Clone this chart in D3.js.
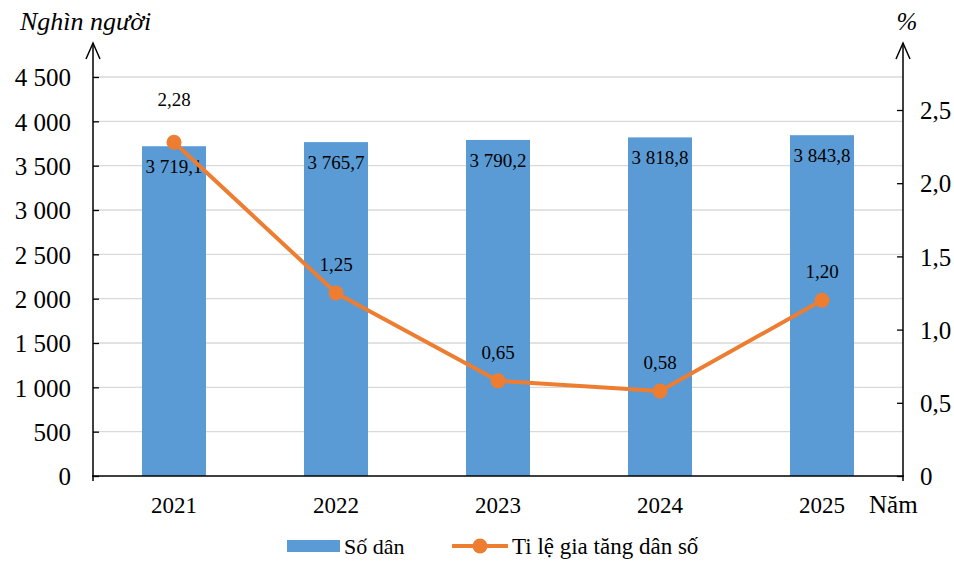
<!DOCTYPE html>
<html>
<head>
<meta charset="utf-8">
<script src="https://cdn.jsdelivr.net/npm/d3@7"></script>
<style>
  body { margin: 0; background: #fff; }
</style>
</head>
<body>
<div id="chart"></div>
<script>
// data
const years = ['2021', '2022', '2023', '2024', '2025'];
const population = [3719.1, 3765.7, 3790.2, 3818.8, 3843.8];
const growthRate = [2.28, 1.25, 0.65, 0.58, 1.20];
const leftTicks = [0, 500, 1000, 1500, 2000, 2500, 3000, 3500, 4000, 4500];
const rightTicks = [0, 0.5, 1.0, 1.5, 2.0, 2.5];

const width = 954, height = 563;
const plotLeft = 93, plotRight = 903, plotBottom = 476, plotTop = 43;
const serif = '"Liberation Serif", "Times New Roman", serif';

const fmtNum = (v, d) => {
    let s = v.toFixed(d).replace('.', ',');
    let [a, b] = s.split(',');
    a = a.replace(/\B(?=(\d{3})+(?!\d))/g, ' ');
    return b !== undefined ? a + ',' + b : a;
};

const svg = d3.select('#chart').append('svg')
    .attr('width', width)
    .attr('height', height);

const x = d3.scaleBand().domain(years).range([plotLeft, plotRight]).paddingInner(0.605).paddingOuter(0.3025);
const yL = d3.scaleLinear().domain([0, 4500]).range([plotBottom, 77]);
const yR = d3.scaleLinear().domain([0, 2.5]).range([plotBottom, 110]);

// grid lines
svg.append('g').selectAll('line')
    .data(leftTicks.slice(1))
    .enter().append('line')
    .attr('x1', plotLeft).attr('x2', plotRight)
    .attr('y1', d => yL(d)).attr('y2', d => yL(d))
    .attr('stroke', '#d9d9d9').attr('stroke-width', 1.3);

// bars
svg.append('g').selectAll('rect')
    .data(years)
    .enter().append('rect')
    .attr('x', d => x(d))
    .attr('width', x.bandwidth())
    .attr('y', (d, i) => yL(population[i]))
    .attr('height', (d, i) => plotBottom - yL(population[i]))
    .attr('fill', '#5b9bd5');

// bar labels
svg.append('g').selectAll('text')
    .data(years)
    .enter().append('text')
    .attr('x', d => x(d) + x.bandwidth() / 2)
    .attr('y', (d, i) => yL(population[i]) + 27)
    .attr('text-anchor', 'middle')
    .style('font-size', '19px')
    .text((d, i) => fmtNum(population[i], 1));

// left axis
const axL = svg.append('g').attr('transform', `translate(${plotLeft},0)`)
    .call(d3.axisLeft(yL).tickValues(leftTicks).tickSize(-6).tickPadding(22).tickFormat(d => fmtNum(d, 0)));
axL.select('.domain').remove();
axL.selectAll('.tick line').attr('stroke', '#000').attr('stroke-width', 1.3);
axL.selectAll('.tick text').style('font-size', '25px').attr('dy', '0.35em');

// right axis
const axR = svg.append('g').attr('transform', `translate(${plotRight},0)`)
    .call(d3.axisRight(yR).tickValues(rightTicks).tickSize(-6).tickPadding(17).tickFormat(d => d === 0 ? '0' : fmtNum(d, 1)));
axR.select('.domain').remove();
axR.selectAll('.tick line').attr('stroke', '#000').attr('stroke-width', 1.3);
axR.selectAll('.tick text').style('font-size', '25px').attr('dy', '0.35em');

// axis lines with arrows
[plotLeft, plotRight].forEach(ax => {
    svg.append('line').attr('x1', ax).attr('x2', ax).attr('y1', plotTop).attr('y2', plotBottom + 5)
        .attr('stroke', '#000').attr('stroke-width', 1.5);
    svg.append('path').attr('d', `M${ax - 7},${plotTop + 16}L${ax},${plotTop}L${ax + 7},${plotTop + 16}`)
        .attr('fill', 'none').attr('stroke', '#000').attr('stroke-width', 1.5);
});
svg.append('line').attr('x1', plotLeft - 1).attr('x2', plotRight + 1).attr('y1', plotBottom).attr('y2', plotBottom)
    .attr('stroke', '#000').attr('stroke-width', 1.5);

// x labels
svg.append('g').selectAll('text')
    .data(years)
    .enter().append('text')
    .attr('x', d => x(d) + x.bandwidth() / 2)
    .attr('y', 513)
    .attr('text-anchor', 'middle')
    .style('font-size', '23px')
    .text(d => d);

svg.append('text').attr('x', 869).attr('y', 513).style('font-size', '25px').text('Năm');
svg.append('text').attr('x', 20).attr('y', 30).style('font-size', '26px').style('font-style', 'italic').text('Nghìn người');
svg.append('text').attr('x', 907).attr('y', 30).attr('text-anchor', 'middle').style('font-size', '25px').style('font-style', 'italic').text('%');

// line
const cx = d => x(d) + x.bandwidth() / 2;
const line = d3.line().x(d => cx(d)).y((d, i) => yR(growthRate[i]));
svg.append('path')
    .datum(years)
    .attr('d', line)
    .attr('fill', 'none')
    .attr('stroke', '#ed7d31')
    .attr('stroke-width', 4)
    .attr('stroke-linejoin', 'round');

svg.append('g').selectAll('circle')
    .data(years)
    .enter().append('circle')
    .attr('cx', d => cx(d))
    .attr('cy', (d, i) => yR(growthRate[i]))
    .attr('r', 7.5)
    .attr('fill', '#ed7d31');

// line labels (pushed above bar label when they would collide)
svg.append('g').selectAll('text')
    .data(years)
    .enter().append('text')
    .attr('x', d => cx(d))
    .attr('y', (d, i) => {
        const py = yR(growthRate[i]), by = yL(population[i]);
        return (py < by + 30 ? by - 46 : py - 28) + 6;
    })
    .attr('text-anchor', 'middle')
    .style('font-size', '19px')
    .text((d, i) => fmtNum(growthRate[i], 2));

// legend
const lg = svg.append('g');
lg.append('rect').attr('x', 287).attr('y', 540).attr('width', 53).attr('height', 12).attr('fill', '#5b9bd5');
lg.append('text').attr('x', 344).attr('y', 554).style('font-size', '22px').text('Số dân');
lg.append('line').attr('x1', 452).attr('x2', 508).attr('y1', 546).attr('y2', 546)
    .attr('stroke', '#ed7d31').attr('stroke-width', 4);
lg.append('circle').attr('cx', 480).attr('cy', 546).attr('r', 7.5).attr('fill', '#ed7d31');
lg.append('text').attr('x', 512).attr('y', 554).style('font-size', '23px').text('Ti lệ gia tăng dân số');

svg.selectAll('text').style('font-family', serif).attr('fill', '#000');
</script>
</body>
</html>
